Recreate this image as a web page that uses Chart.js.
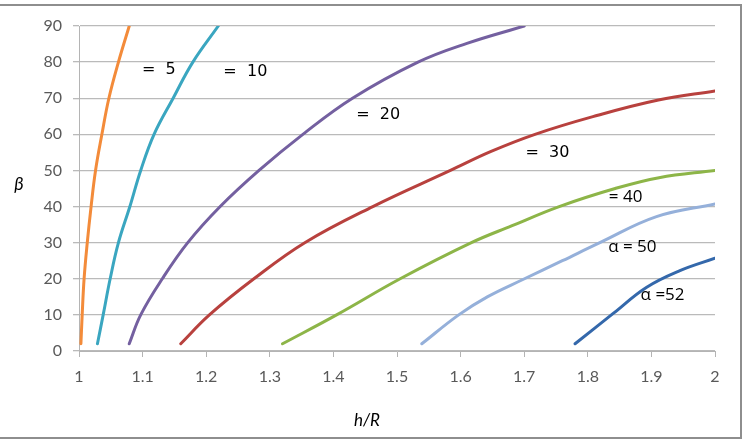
<!DOCTYPE html>
<html>
<head>
<meta charset="utf-8">
<script src="https://cdn.jsdelivr.net/npm/chart.js@4/dist/chart.umd.min.js"></script>
<style>
  html, body { margin: 0; padding: 0; background: #fff; overflow: hidden; }
  #frame { position: absolute; left: -4px; top: 4px; width: 742px; height: 431px; border: 2px solid #8e8e8e; }
  #wrap { position: absolute; left: 0; top: 0; width: 744px; height: 440px; }
</style>
</head>
<body>
<div id="frame"></div>
<div id="wrap"><canvas id="grafico" width="744" height="440"></canvas></div>
<script>
// ==================== DATOS ====================
const xTicks = [1, 1.1, 1.2, 1.3, 1.4, 1.5, 1.6, 1.7, 1.8, 1.9, 2];
const yTicks = [0, 10, 20, 30, 40, 50, 60, 70, 80, 90];

// h/R y β de cada curva
const alfa5X  = [1.003, 1.005, 1.008, 1.013, 1.019, 1.026, 1.036, 1.047, 1.062, 1.079];
const alfa5Y  = [2, 10, 20, 30, 40, 50, 60, 70, 80, 90];
const alfa10X = [1.029, 1.038, 1.049, 1.062, 1.08, 1.097, 1.118, 1.148, 1.179, 1.219];
const alfa10Y = [2, 10, 20, 30, 40, 50, 60, 70, 80, 90];
const alfa20X = [1.079, 1.097, 1.131, 1.171, 1.222, 1.283, 1.352, 1.43, 1.533, 1.61, 1.70];
const alfa20Y = [2, 10, 20, 30, 40, 50, 60, 70, 80, 85.2, 90];
const alfa30X = [1.16, 1.205, 1.275, 1.355, 1.462, 1.584, 1.647, 1.717, 1.808, 1.911, 2];
const alfa30Y = [2, 10, 20, 30, 40, 50, 55.2, 60, 64.9, 69.5, 72];
const alfa40X = [1.32, 1.405, 1.505, 1.617, 1.681, 1.755, 1.843, 1.912, 2];
const alfa40Y = [2, 10, 20, 30, 34.7, 40, 45, 48, 50];
const alfa50X = [1.539, 1.597, 1.642, 1.698, 1.76, 1.819, 1.908, 2];
const alfa50Y = [2, 10, 15, 19.8, 25, 30, 37.2, 40.7];
const alfa52X = [1.78, 1.84, 1.892, 1.944, 2];
const alfa52Y = [2, 10.4, 17.6, 22.2, 25.7];

const coloresSeries = ['#F38B3A', '#3AA6C0', '#7460A0', '#B8413E', '#8DB548', '#95B0DA', '#3468AB'];

// etiquetas dentro del gráfico (coordenadas en unidades de datos)
const etiquetas = [
    { texto: '=  5',   x: 1.099, y: 77.8, fuente: '16px "DejaVu Sans"' },
    { texto: '=  10',  x: 1.227, y: 77.3, fuente: '16px "DejaVu Sans"' },
    { texto: '=  20',  x: 1.436, y: 65.4, fuente: '16px "DejaVu Sans"' },
    { texto: '=  30',  x: 1.702, y: 54.8, fuente: '16px "DejaVu Sans"' },
    { texto: '= 40',   x: 1.833, y: 42.6, fuente: '17px "Open Sans"' },
    { texto: 'α = 50', x: 1.832, y: 28.8, fuente: '17px "Open Sans"' },
    { texto: 'α =52',  x: 1.883, y: 15.4, fuente: '17px "Open Sans"' }
];

function serie(xs, ys, color) {
    return {
        data: xs.map((x, i) => ({ x, y: ys[i] })),
        showLine: true,
        borderColor: color,
        backgroundColor: color,
        borderWidth: 3,
        pointRadius: 0,
        tension: 0.4,
        borderCapStyle: 'round'
    };
}

const datasets = [
    serie(alfa5X, alfa5Y, coloresSeries[0]),
    serie(alfa10X, alfa10Y, coloresSeries[1]),
    serie(alfa20X, alfa20Y, coloresSeries[2]),
    serie(alfa30X, alfa30Y, coloresSeries[3]),
    serie(alfa40X, alfa40Y, coloresSeries[4]),
    serie(alfa50X, alfa50Y, coloresSeries[5]),
    serie(alfa52X, alfa52Y, coloresSeries[6])
];

// ==================== TEXTOS EXTRA ====================
const textosPlugin = {
    id: 'textos',
    afterDatasetsDraw(chart) {
        const { ctx, scales } = chart;
        ctx.save();
        ctx.fillStyle = '#000';
        ctx.textBaseline = 'middle';
        ctx.textAlign = 'left';
        etiquetas.forEach(e => {
            ctx.font = e.fuente;
            ctx.fillText(e.texto, scales.x.getPixelForValue(e.x), scales.y.getPixelForValue(e.y));
        });
        // títulos de ejes
        ctx.textAlign = 'center';
        ctx.font = 'italic 18px Lato';
        ctx.fillText('β', 19, 184);
        ctx.font = 'italic 17px Lato';
        ctx.fillText('h/R', 367, 421);
        ctx.restore();
    }
};

const ctx = document.getElementById('grafico').getContext('2d');
window.graficoAlfa = new Chart(ctx, {
    type: 'scatter',
    data: { datasets },
    plugins: [textosPlugin],
    options: {
        responsive: false,
        animation: false,
        layout: { padding: { top: 26, right: 29, left: 0, bottom: 0 } },
        plugins: { legend: { display: false }, tooltip: { enabled: false } },
        scales: {
            x: {
                type: 'linear',
                min: 1,
                max: 2,
                afterBuildTicks: (scale) => { scale.ticks = xTicks.map(v => ({ value: v })); },
                afterFit: (scale) => { scale.height = 89; },
                ticks: {
                    callback: (v) => String(+Number(v).toFixed(1)),
                    font: { family: 'Lato', size: 16 },
                    color: '#595959',
                    padding: 10,
                    maxRotation: 0
                },
                grid: { drawOnChartArea: false, drawTicks: true, tickLength: 6, color: '#b4b4b4' },
                border: { display: true, color: '#b4b4b4', width: 1 }
            },
            y: {
                type: 'linear',
                min: 0,
                max: 90,
                afterBuildTicks: (scale) => { scale.ticks = yTicks.map(v => ({ value: v })); },
                afterFit: (scale) => { scale.width = 79; },
                ticks: {
                    font: { family: 'Lato', size: 16 },
                    color: '#595959',
                    padding: 11
                },
                grid: { drawOnChartArea: true, drawTicks: true, tickLength: 6, color: '#bababa', lineWidth: 1.3 },
                border: { display: true, color: '#b4b4b4', width: 1 }
            }
        }
    }
});
</script>
</body>
</html>
